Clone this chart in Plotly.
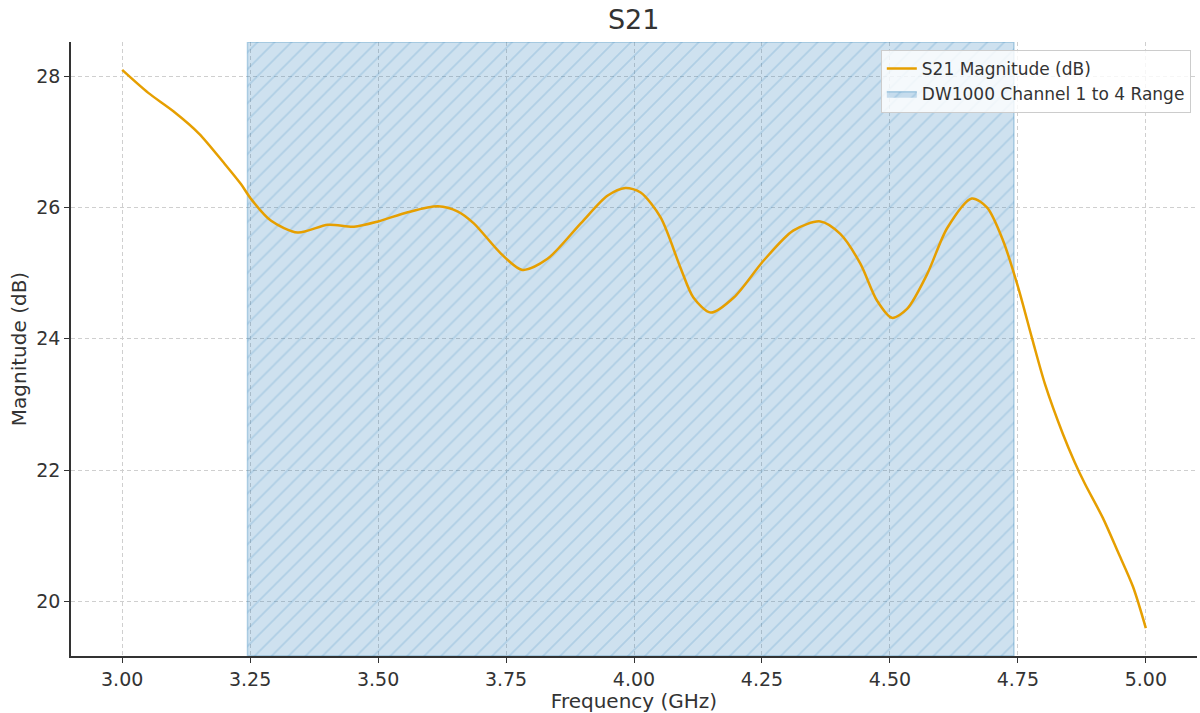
import plotly.graph_objects as go

# Frequency (GHz) and S21 magnitude (dB)
freq_ghz = [3.000, 3.051, 3.100, 3.150, 3.199, 3.232, 3.252, 3.291, 3.343, 3.402,
            3.453, 3.500, 3.558, 3.617, 3.656, 3.687, 3.740, 3.782, 3.831, 3.896,
            3.948, 3.983, 4.013, 4.052, 4.091, 4.116, 4.150, 4.195, 4.253, 4.311,
            4.364, 4.403, 4.442, 4.475, 4.504, 4.534, 4.573, 4.612, 4.660, 4.690,
            4.721, 4.750, 4.778, 4.803, 4.838, 4.861, 4.881, 4.916, 4.945, 4.975,
            5.000]
s21_db = [28.10, 27.75, 27.47, 27.13, 26.68, 26.36, 26.13, 25.80, 25.62, 25.74,
          25.71, 25.79, 25.93, 26.02, 25.94, 25.76, 25.30, 25.05, 25.22, 25.76,
          26.18, 26.30, 26.23, 25.85, 25.08, 24.63, 24.40, 24.63, 25.19, 25.65,
          25.79, 25.60, 25.15, 24.58, 24.32, 24.46, 24.99, 25.69, 26.14, 26.00,
          25.50, 24.80, 24.00, 23.31, 22.55, 22.12, 21.79, 21.27, 20.76, 20.22,
          19.59]

# DW1000 channel 1 to 4 frequency span (GHz)
band_start = 3.2448
band_end = 4.7424

x_ticks = [3.00, 3.25, 3.50, 3.75, 4.00, 4.25, 4.50, 4.75, 5.00]
y_ticks = [20, 22, 24, 26, 28]

# axis limits with matplotlib-like 5% margins
xpad = (max(freq_ghz) - min(freq_ghz)) * 0.05
ypad = (max(s21_db) - min(s21_db)) * 0.05
x_range = [min(freq_ghz) - xpad, max(freq_ghz) + xpad]
y_range = [min(s21_db) - ypad, max(s21_db) + ypad]

TXT = "#333333"
FONT = "DejaVu Sans"

fig = go.Figure()

fig.add_trace(go.Scatter(
    x=[band_start, band_end, band_end, band_start, band_start],
    y=[y_range[0], y_range[0], y_range[1], y_range[1], y_range[0]],
    mode="lines",
    fill="toself",
    fillcolor="rgba(31,119,180,0.22)",
    fillpattern=dict(shape="/", size=12, solidity=0.14,
                     fgcolor="rgba(31,119,180,0.36)",
                     bgcolor="rgba(31,119,180,0.22)"),
    line=dict(color="rgba(31,119,180,0.30)", width=1.5),
    name="DW1000 Channel 1 to 4 Range",
    legendrank=2,
    hoverinfo="skip",
))

fig.add_trace(go.Scatter(
    x=freq_ghz, y=s21_db,
    mode="lines",
    line=dict(color="#E69F00", width=2.5, shape="spline", smoothing=0.8),
    name="S21 Magnitude (dB)",
    legendrank=1,
))

fig.update_layout(
    width=1200, height=713,
    margin=dict(l=71, r=3, t=42, b=57),
    paper_bgcolor="white", plot_bgcolor="white",
    font=dict(family=FONT, color=TXT, size=19),
    title=dict(text="S21", x=0.5281, xanchor="center", y=0.972, yanchor="middle",
               font=dict(size=27, color=TXT, family=FONT)),
    legend=dict(x=0.9945, y=0.987, xanchor="right", yanchor="top",
                bgcolor="rgba(255,255,255,0.8)", bordercolor="#cccccc", borderwidth=1,
                font=dict(size=17, color=TXT, family=FONT),
                tracegroupgap=2, itemwidth=30),
    showlegend=True,
)

fig.update_xaxes(
    range=x_range, tickvals=x_ticks, tickformat=".2f",
    showline=True, linecolor=TXT, linewidth=1.5, mirror=False,
    ticks="outside", ticklen=5, tickcolor=TXT, tickwidth=1.2,
    showgrid=True, gridcolor="#cfcfcf", griddash="4px,3px", gridwidth=1,
    zeroline=False,
    tickfont=dict(size=19, color=TXT),
    title=dict(text="Frequency (GHz)", font=dict(size=20, color=TXT), standoff=3),
)
fig.update_yaxes(
    range=y_range, tickvals=y_ticks,
    showline=True, linecolor=TXT, linewidth=1.5, mirror=False,
    ticks="outside", ticklen=5, tickcolor=TXT, tickwidth=1.2,
    showgrid=True, gridcolor="#cfcfcf", griddash="4px,3px", gridwidth=1,
    zeroline=False,
    tickfont=dict(size=19, color=TXT),
    title=dict(text="Magnitude (dB)", font=dict(size=20, color=TXT), standoff=4),
)

fig.write_html("out.html")
